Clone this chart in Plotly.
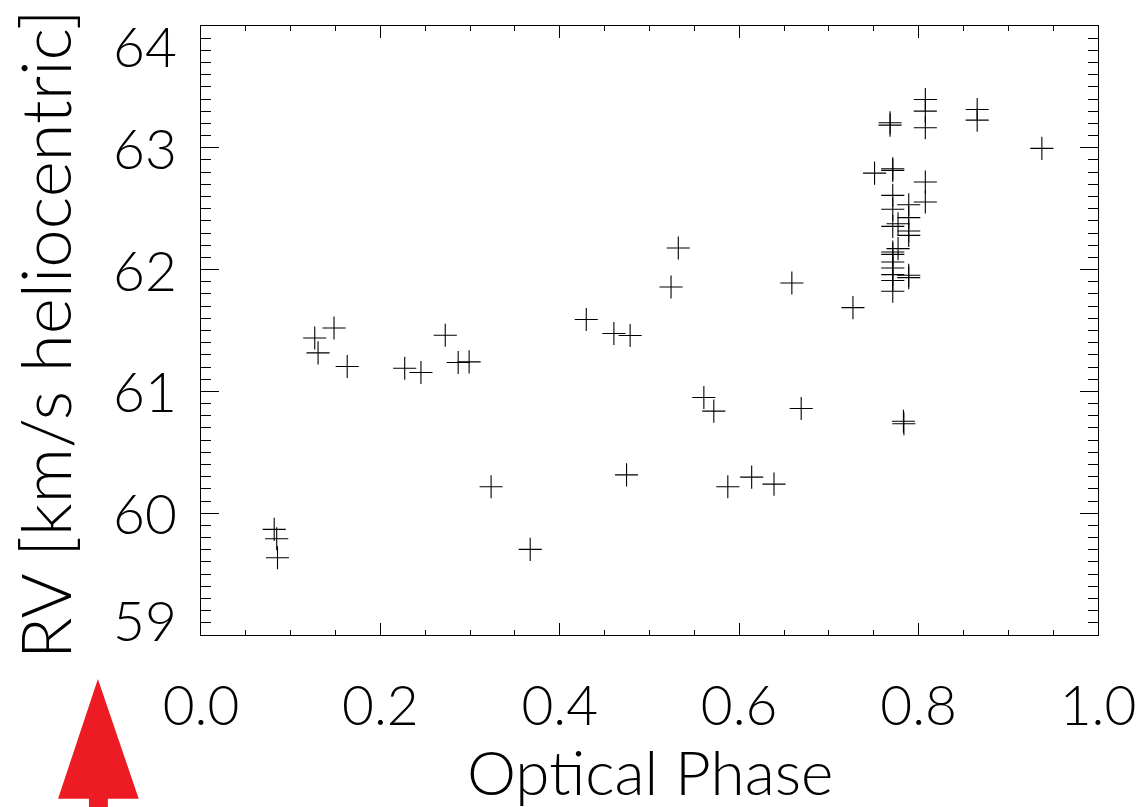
import plotly.graph_objects as go

# ---- data ----
phase = [0.0816, 0.0844, 0.0853, 0.1268, 0.1483, 0.1305, 0.1630, 0.2271, 0.2452,
         0.2723, 0.2867, 0.2989, 0.3234, 0.3670, 0.4295, 0.4603, 0.4784, 0.4744,
         0.5240, 0.5321, 0.5606, 0.5717, 0.5873, 0.6139, 0.6388, 0.6587, 0.6691,
         0.7268, 0.7509, 0.7682, 0.7682, 0.7712, 0.7712, 0.7712, 0.7712, 0.7712,
         0.7712, 0.7712, 0.7712, 0.7712, 0.7712, 0.7712, 0.7712, 0.7771, 0.7771,
         0.7890, 0.7890, 0.7890, 0.7890, 0.7890, 0.7890, 0.7831, 0.7836, 0.8075,
         0.8075, 0.8075, 0.8075, 0.8075, 0.8653, 0.8653, 0.9374]
rv = [59.867, 59.790, 59.634, 61.439, 61.521, 61.316, 61.204, 61.190, 61.155,
      61.461, 61.237, 61.242, 60.217, 59.703, 61.590, 61.475, 61.459, 60.315,
      61.857, 62.177, 60.950, 60.838, 60.217, 60.296, 60.239, 61.890, 60.860,
      61.688, 62.792, 63.206, 63.186, 62.828, 62.815, 62.609, 62.495, 62.355,
      62.144, 62.125, 62.062, 62.013, 61.959, 61.910, 61.822, 62.377, 62.172,
      62.533, 62.427, 62.317, 62.281, 61.953, 61.934, 60.755, 60.735, 63.397,
      63.301, 63.165, 62.719, 62.555, 63.315, 63.227, 62.995]

x_ticks = [0.0, 0.2, 0.4, 0.6, 0.8, 1.0]
x_tick_labels = ["0.0", "0.2", "0.4", "0.6", "0.8", "1.0"]
y_ticks = [59, 60, 61, 62, 63, 64]
y_tick_labels = ["59", "60", "61", "62", "63", "64"]
x_title = "Optical Phase"
y_title = "RV [km/s heliocentric]"

# ---- layout geometry (pixels) ----
W, H = 1148, 807
L, R, T, B = 200.5, 47, 25.5, 172
PW, PH = W - L - R, H - T - B

FONT = "Lato"
TICK_SIZE = 55
XTITLE_SIZE = 62
YTITLE_SIZE = 69


def px2paper(px, py):
    return (px - L) / PW, (H - B - py) / PH


fig = go.Figure()
fig.add_trace(go.Scatter(
    x=phase, y=rv, mode="markers",
    marker=dict(symbol="cross-thin", size=16.5,
                line=dict(width=1.1, color="black"), color="black"),
    hoverinfo="x+y", showlegend=False,
))

axis_common = dict(
    showgrid=False, zeroline=False, showline=True, linecolor="black",
    linewidth=1, mirror="allticks", ticks="inside", tickcolor="black",
    tickwidth=1,
)

fig.update_layout(
    width=W, height=H,
    margin=dict(l=L, r=R, t=T, b=B, pad=0),
    paper_bgcolor="white", plot_bgcolor="white",
    font=dict(family=FONT, size=TICK_SIZE, color="black", weight=300),
    xaxis=dict(range=[0, 1], tickvals=x_ticks, ticktext=x_tick_labels,
               ticklen=12, ticklabelstandoff=23,
               tickfont=dict(family=FONT, size=TICK_SIZE, weight=300),
               minor=dict(dtick=0.05, tick0=0, ticklen=5, ticks="inside",
                          tickcolor="black", tickwidth=1),
               **axis_common),
    yaxis=dict(range=[59, 64], tickvals=y_ticks, showticklabels=False,
               ticklen=18,
               minor=dict(dtick=0.1, tick0=59, ticklen=10, ticks="inside",
                          tickcolor="black", tickwidth=1),
               **axis_common),
)

# y tick labels (end labels pulled inward, as in the reference)
for v, lab in zip(y_ticks, y_tick_labels):
    shift = 0
    if v == max(y_ticks):
        shift = -20
    elif v == min(y_ticks):
        shift = 15
    fig.add_annotation(x=0, xref="paper", xanchor="right", xshift=-22,
                       y=v, yref="y", yanchor="middle", yshift=shift,
                       text=lab, showarrow=False,
                       font=dict(family=FONT, size=TICK_SIZE, weight=300))

# axis titles
tx, ty = px2paper(651, 771)
fig.add_annotation(x=tx, y=ty, xref="paper", yref="paper", text=x_title,
                   showarrow=False, xanchor="center", yanchor="middle",
                   font=dict(family=FONT, size=XTITLE_SIZE, weight=300))
tx, ty = px2paper(43, 334)
fig.add_annotation(x=tx, y=ty, xref="paper", yref="paper", text=y_title,
                   showarrow=False, xanchor="center", yanchor="middle",
                   textangle=-90,
                   font=dict(family=FONT, size=YTITLE_SIZE, weight=300))

# red arrow decoration in lower-left corner
arrow_px = [(97, 679), (138, 799), (107, 799), (107, 812), (88, 812), (88, 799), (57, 799)]
pts = [px2paper(a, b) for a, b in arrow_px]
path = "M " + " L ".join(f"{a:.5f},{b:.5f}" for a, b in pts) + " Z"
fig.add_shape(type="path", path=path, xref="paper", yref="paper",
              fillcolor="#ED1C24", line=dict(width=0), layer="above")

fig.write_html("out.html")
